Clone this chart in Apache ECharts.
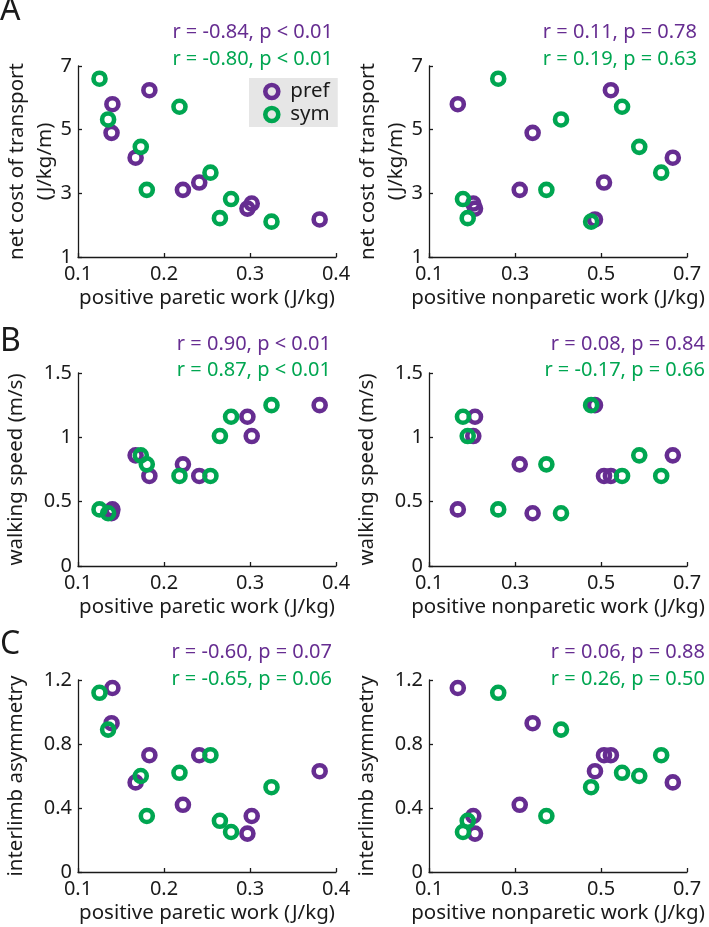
<!DOCTYPE html>
<html>
<head>
<meta charset="utf-8">
<script src="https://cdn.jsdelivr.net/npm/echarts@6/dist/echarts.min.js"></script>
<style>
  html, body { margin: 0; padding: 0; background: #fff; }
  #chart { width: 709px; height: 927px; }
</style>
</head>
<body>
<div id="chart"></div>
<script>
  // subjects, preferred (pref) and symmetric (sym) walking
  const prefParetic = [0.140, 0.139, 0.167, 0.183, 0.222, 0.241, 0.297, 0.302, 0.381];
  const prefNonparetic = [0.167, 0.341, 0.667, 0.523, 0.311, 0.507, 0.207, 0.203, 0.486];
  const prefCOT = [5.80, 4.90, 4.12, 6.24, 3.11, 3.34, 2.52, 2.68, 2.18];
  const prefSpeed = [0.44, 0.41, 0.86, 0.70, 0.79, 0.70, 1.16, 1.01, 1.25];
  const prefAsym = [1.15, 0.93, 0.56, 0.73, 0.42, 0.73, 0.24, 0.35, 0.63];

  const symParetic = [0.125, 0.135, 0.173, 0.180, 0.218, 0.254, 0.265, 0.278, 0.325];
  const symNonparetic = [0.261, 0.407, 0.589, 0.373, 0.549, 0.640, 0.190, 0.179, 0.477];
  const symCOT = [6.60, 5.32, 4.46, 3.11, 5.72, 3.65, 2.22, 2.82, 2.11];
  const symSpeed = [0.44, 0.41, 0.86, 0.79, 0.70, 0.70, 1.01, 1.16, 1.25];
  const symAsym = [1.12, 0.89, 0.60, 0.35, 0.62, 0.73, 0.32, 0.25, 0.53];

  // correlation labels, per panel [pref, sym]
  const statsText = [
    ['r = -0.84, p < 0.01', 'r = -0.80, p < 0.01'],
    ['r = 0.11, p = 0.78', 'r = 0.19, p = 0.63'],
    ['r = 0.90, p < 0.01', 'r = 0.87, p < 0.01'],
    ['r = 0.08, p = 0.84', 'r = -0.17, p = 0.66'],
    ['r = -0.60, p = 0.07', 'r = -0.65, p = 0.06'],
    ['r = 0.06, p = 0.88', 'r = 0.26, p = 0.50']
  ];
  const panelLetters = ['A', 'B', 'C'];
  const xNames = ['positive paretic work (J/kg)', 'positive nonparetic work (J/kg)'];
  const yNames = [['net cost of transport', '(J/kg/m)'], ['walking speed (m/s)'], ['interlimb asymmetry']];

  const PURPLE = '#662d91';
  const GREEN = '#00a651';
  const FONT = 'Noto Sans';
  const INK = '#1a1a1a';

  const colLeft = [78, 429];
  const plotW = 258;
  const rowTop = [66, 373, 680];
  const plotH = [191, 193, 192];
  const xRange = [[0.1, 0.4, 0.1], [0.1, 0.7, 0.2]];
  const yRange = [[1, 7, 2], [0, 1.5, 0.5], [0, 1.2, 0.4]];
  const yGap = [19, 48, 48];

  const prefY = [prefCOT, prefSpeed, prefAsym];
  const symY = [symCOT, symSpeed, symAsym];
  const prefX = [prefParetic, prefNonparetic];
  const symX = [symParetic, symNonparetic];

  function zip(xs, ys) {
    return xs.map((x, i) => [x, ys[i]]);
  }

  const grid = [], xAxis = [], yAxis = [], series = [], graphic = [];
  const statRight = [[333, 697], [331, 705], [332, 705]];
  const statY = [[33, 60], [345, 371], [653, 680]];
  const axisLineStyle = { color: INK, width: 1.3 };

  for (let r = 0; r < 3; r++) {
    for (let c = 0; c < 2; c++) {
      const idx = r * 2 + c;
      grid.push({ left: colLeft[c], top: rowTop[r], width: plotW, height: plotH[r] });
      xAxis.push({
        gridIndex: idx, type: 'value',
        min: xRange[c][0], max: xRange[c][1], interval: xRange[c][2],
        name: xNames[c], nameLocation: 'middle', nameGap: 29,
        nameTextStyle: { fontFamily: FONT, fontSize: 20.5, color: INK, lineHeight: 24 },
        axisLine: { lineStyle: axisLineStyle },
        axisTick: { inside: true, length: 4, lineStyle: axisLineStyle },
        axisLabel: { fontFamily: FONT, fontSize: 20, color: INK, margin: 7 },
        splitLine: { show: false }
      });
      yAxis.push({
        gridIndex: idx, type: 'value',
        min: yRange[r][0], max: yRange[r][1], interval: yRange[r][2],
        name: yNames[r].map(s => '{n|' + s + '}').join('\n'),
        nameLocation: 'middle', nameGap: yGap[r],
        nameTextStyle: {
          rich: { n: { fontFamily: FONT, fontSize: 20.5, color: INK, lineHeight: 28 } }
        },
        axisLine: { lineStyle: axisLineStyle },
        axisTick: { inside: true, length: 4, lineStyle: axisLineStyle },
        axisLabel: { fontFamily: FONT, fontSize: 20, color: INK, margin: 6 },
        splitLine: { show: false }
      });
      series.push({
        name: 'pref', type: 'scatter', xAxisIndex: idx, yAxisIndex: idx,
        data: zip(prefX[c], prefY[r]),
        symbol: 'circle', symbolSize: 12,
        itemStyle: { color: 'transparent', borderColor: PURPLE, borderWidth: 4.6, opacity: 1 }
      });
      series.push({
        name: 'sym', type: 'scatter', xAxisIndex: idx, yAxisIndex: idx,
        data: zip(symX[c], symY[r]),
        symbol: 'circle', symbolSize: 12,
        itemStyle: { color: 'transparent', borderColor: GREEN, borderWidth: 4.6, opacity: 1 }
      });
      graphic.push({
        type: 'text', right: 709 - statRight[r][c], top: statY[r][0] - 11,
        style: { text: statsText[idx][0], fill: PURPLE, font: '20px "' + FONT + '"' }
      });
      graphic.push({
        type: 'text', right: 709 - statRight[r][c], top: statY[r][1] - 11,
        style: { text: statsText[idx][1], fill: GREEN, font: '20px "' + FONT + '"' }
      });
    }
  }

  const letterY = [-5, 326, 629];
  panelLetters.forEach((t, i) => {
    graphic.push({
      type: 'text', left: 0, top: letterY[i],
      style: { text: t, fill: INK, font: '32px "' + FONT + '"' }
    });
  });

  const option = {
    animation: false,
    backgroundColor: '#fff',
    grid: grid,
    xAxis: xAxis,
    yAxis: yAxis,
    legend: {
      data: ['pref', 'sym'],
      orient: 'vertical',
      left: 249, top: 78,
      backgroundColor: '#e6e6e6',
      borderRadius: 0,
      padding: [3, 8, 2, 14],
      itemGap: 2,
      itemWidth: 13, itemHeight: 13,
      itemStyle: { borderWidth: 4.6 },
      textStyle: { fontFamily: FONT, fontSize: 20.5, color: INK, padding: [0, 0, 0, 7] }
    },
    graphic: graphic,
    series: series
  };

  const chartObj = echarts.init(document.getElementById('chart'));
  chartObj.setOption(option);
</script>
</body>
</html>
